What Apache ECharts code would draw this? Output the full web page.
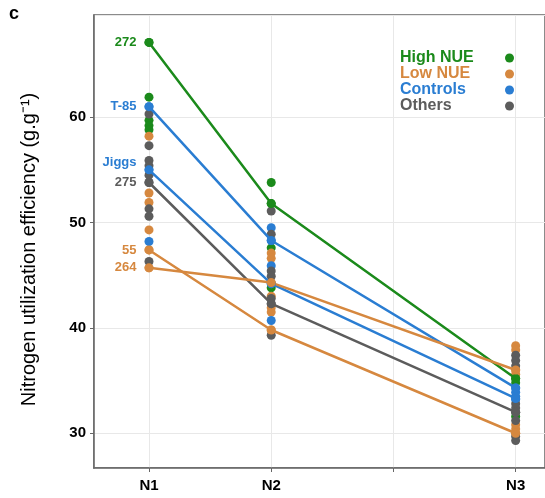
<!DOCTYPE html>
<html>
<head>
<meta charset="utf-8">
<script src="https://cdn.jsdelivr.net/npm/echarts@6/dist/echarts.min.js"></script>
<style>
  html, body { margin: 0; padding: 0; background: #fff; }
  #chart { width: 545px; height: 498px; }
</style>
</head>
<body>
<div id="chart"></div>
<script>
  // nitrogen levels on a value axis (N3 sits at 4)
  const levelX = [1, 2, 4]
  const levelLabels = ['N1', 'N2', 'N3']

  // dots per group and level
  const highN1 = [67.1, 61.9, 59.7, 59.2, 58.8]
  const highN2 = [53.8, 51.8, 47.6, 43.8]
  const highN3 = [35.2, 34.8, 31.6]
  const lowN1 = [58.2, 52.8, 51.9, 49.3, 47.4, 45.7]
  const lowN2 = [47.1, 46.6, 44.3, 43.0, 41.9, 41.5, 39.8]
  const lowN3 = [38.3, 37.9, 36.0, 35.6, 30.8, 30.4, 30.0]
  const ctrlN1 = [61.0, 55.0, 48.2]
  const ctrlN2 = [49.5, 48.3, 45.9, 44.2, 40.7]
  const ctrlN3 = [34.3, 33.9, 33.5, 33.2]
  const otherN1 = [60.3, 57.3, 55.9, 55.4, 54.5, 53.8, 51.3, 50.6, 46.3]
  const otherN2 = [51.1, 48.9, 45.4, 44.9, 42.8, 42.3, 39.3]
  const otherN3 = [37.4, 36.9, 36.4, 32.8, 32.4, 32.0, 31.2, 29.7, 29.3]

  // highlighted genotypes (N1, N2, N3)
  const line272 = [67.1, 51.8, 35.2]
  const lineT85 = [61.0, 48.3, 34.3]
  const lineJiggs = [55.0, 44.2, 33.3]
  const line275 = [53.8, 42.3, 32.0]
  const line55 = [47.4, 39.8, 30.0]
  const line264 = [45.7, 44.3, 36.0]

  const GREEN = '#1b8a1b'
  const ORANGE = '#d6883f'
  const BLUE = '#2a7dd2'
  const GRAY = '#5c5c5c'
  const FONT = 'Liberation Sans, Arial, sans-serif'

  const toPoints = (cols) => {
    const pts = []
    cols.forEach((vals, i) => {
      vals.forEach((v) => pts.push([levelX[i], v]))
    })
    return pts
  }

  const dotSeries = (name, color, cols) => ({
    name: name,
    type: 'scatter',
    symbolSize: 9,
    itemStyle: { color: color, opacity: 1 },
    z: 2,
    data: toPoints(cols)
  })

  const lineSeries = (name, color, vals, offset) => ({
    name: name,
    type: 'line',
    symbol: 'circle',
    symbolSize: 9,
    lineStyle: { color: color, width: 2.5 },
    itemStyle: { color: color },
    z: 3,
    label: {
      show: true,
      position: 'left',
      distance: 8,
      offset: offset || [0, 0],
      color: color,
      fontWeight: 'bold',
      fontSize: 13,
      fontFamily: FONT,
      formatter: (p) => (p.dataIndex === 0 ? name : '')
    },
    data: vals.map((v, i) => [levelX[i], v])
  })

  const legendItem = (name, color) => ({
    name: name,
    textStyle: { color: color, rich: { a: { color: color } } }
  })

  const chart = echarts.init(document.getElementById('chart'), null, { renderer: 'canvas' })
  chart.setOption({
    animation: false,
    title: {
      text: 'c',
      left: 4,
      top: 0,
      textStyle: { fontSize: 18, fontWeight: 'bold', color: '#000', fontFamily: FONT }
    },
    grid: {
      left: 94,
      top: 15,
      right: -2,
      bottom: 30,
      show: true,
      borderColor: '#666',
      borderWidth: 1.5
    },
    legend: {
      orient: 'vertical',
      left: 395,
      top: 45,
      align: 'right',
      icon: 'circle',
      itemWidth: 9,
      itemHeight: 9,
      itemGap: 0,
      formatter: '{a|{name}}',
      textStyle: {
        fontSize: 16,
        fontWeight: 'bold',
        lineHeight: 16,
        fontFamily: FONT,
        rich: {
          a: { width: 100, align: 'left', fontSize: 16, fontWeight: 'bold', lineHeight: 16, fontFamily: FONT }
        }
      },
      data: [
        legendItem('High NUE', GREEN),
        legendItem('Low NUE', ORANGE),
        legendItem('Controls', BLUE),
        legendItem('Others', GRAY)
      ]
    },
    xAxis: {
      type: 'value',
      min: 0.55,
      max: 4.24,
      axisLine: { show: true, lineStyle: { color: '#666', width: 1.5 } },
      axisTick: { show: true, length: 4, lineStyle: { color: '#666' } },
      splitLine: { show: true, lineStyle: { color: '#e8e8e8', width: 1 } },
      axisLabel: {
        margin: 10,
        color: '#000',
        fontSize: 15,
        fontWeight: 'bold',
        fontFamily: FONT,
        showMinLabel: false,
        showMaxLabel: false,
        formatter: (v) => {
          const i = levelX.indexOf(v)
          return i >= 0 ? levelLabels[i] : ''
        }
      }
    },
    yAxis: {
      type: 'value',
      min: 26.7,
      max: 69.7,
      name: 'Nitrogen utilization efficiency (g.g⁻¹)',
      nameLocation: 'middle',
      nameGap: 55,
      nameTextStyle: { fontSize: 20, color: '#000', fontFamily: FONT, padding: [0, 16, 0, 0] },
      axisLine: { show: true, lineStyle: { color: '#666', width: 1.5 } },
      axisTick: { show: true, length: 4, lineStyle: { color: '#666' } },
      splitLine: { show: true, lineStyle: { color: '#e8e8e8', width: 1 } },
      axisLabel: {
        margin: 8,
        color: '#000',
        fontSize: 15,
        fontWeight: 'bold',
        fontFamily: FONT,
        showMinLabel: false,
        showMaxLabel: false
      }
    },
    series: [
      dotSeries('High NUE', GREEN, [highN1, highN2, highN3]),
      dotSeries('Low NUE', ORANGE, [lowN1, lowN2, lowN3]),
      dotSeries('Controls', BLUE, [ctrlN1, ctrlN2, ctrlN3]),
      dotSeries('Others', GRAY, [otherN1, otherN2, otherN3]),
      lineSeries('272', GREEN, line272),
      lineSeries('T-85', BLUE, lineT85),
      lineSeries('Jiggs', BLUE, lineJiggs, [0, -7]),
      lineSeries('275', GRAY, line275),
      lineSeries('55', ORANGE, line55),
      lineSeries('264', ORANGE, line264)
    ]
  })
</script>
</body>
</html>
